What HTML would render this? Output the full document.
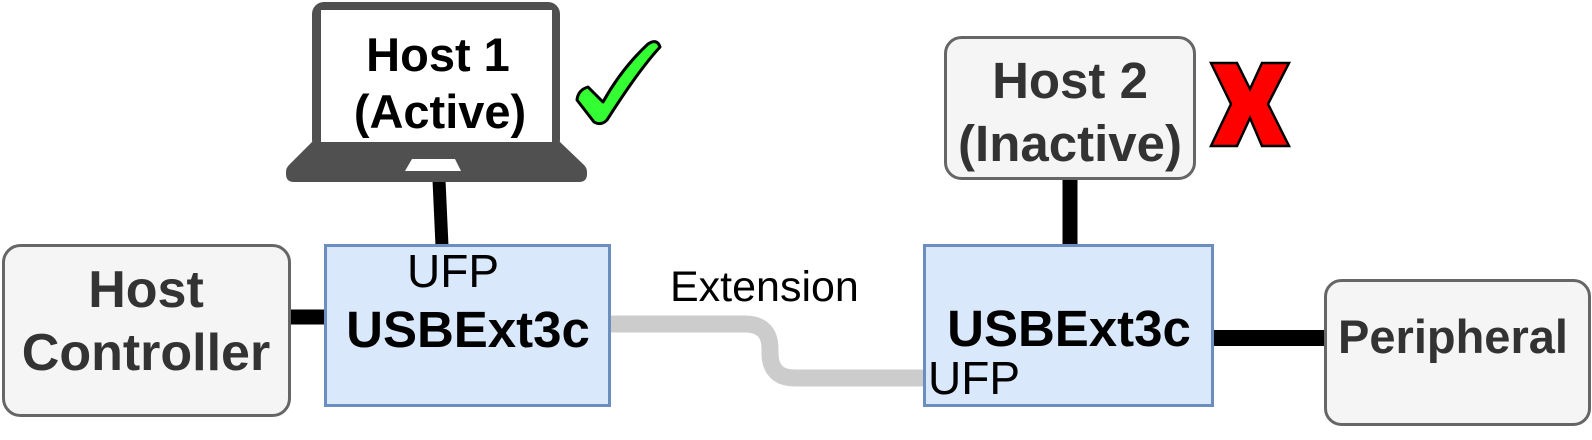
<!DOCTYPE html>
<html>
<head>
<meta charset="utf-8">
<style>
  html, body { margin: 0; padding: 0; background: #ffffff; }
  svg { display: block; }
  text { font-family: "Liberation Sans", Arial, sans-serif; }
</style>
</head>
<body>
<svg width="1592" height="440" viewBox="0 0 1592 440" xmlns="http://www.w3.org/2000/svg">
  <rect x="0" y="0" width="1592" height="440" fill="#ffffff"/>

  <!-- Connectors -->
  <line x1="439" y1="180" x2="442" y2="246" stroke="#000" stroke-width="13"/>
  <line x1="288" y1="317" x2="326" y2="317" stroke="#000" stroke-width="15"/>
  <line x1="1212" y1="338" x2="1326" y2="338" stroke="#000" stroke-width="16"/>
  <line x1="1070" y1="176" x2="1070" y2="246" stroke="#000" stroke-width="15"/>

  <!-- Extension cable -->
  <path d="M 608 324 L 745 324 Q 770 324 770 349 L 770 353 Q 770 378 795 378 L 926 378" fill="none" stroke="#cccccc" stroke-width="17"/>

  <!-- Laptop (Host 1) -->
  <rect x="312" y="2" width="248" height="150" rx="12" ry="12" fill="#505050"/>
  <rect x="321" y="10" width="231" height="132" fill="#ffffff"/>
  <path d="M 312 142 L 560 142 L 584 165 Q 587 168 587 172 L 587 174 Q 587 182 579 182 L 294 182 Q 286 182 286 174 L 286 172 Q 286 168 289 165 Z" fill="#505050"/>
  <polygon points="412,159 455,159 461,171 405,171" fill="#ffffff"/>
  <text x="438" y="71" font-size="47" font-weight="bold" fill="#000" text-anchor="middle">Host 1</text>
  <text x="440" y="128" font-size="47" font-weight="bold" fill="#000" text-anchor="middle">(Active)</text>

  <!-- Green check -->
  <path d="M 577 100 Q 578 90 588 87 L 603 102 Q 622 68 648 44 Q 657 38 660 47 Q 638 71 607 120 Q 601 126 594 122 Z" fill="#33ff33" stroke="#000" stroke-width="3" stroke-linejoin="round"/>

  <!-- Host Controller -->
  <rect x="3.5" y="245.5" width="286" height="170" rx="17" ry="17" fill="#f5f5f5" stroke="#666666" stroke-width="3"/>
  <text x="146" y="307" font-size="52" font-weight="bold" fill="#333333" text-anchor="middle">Host</text>
  <text x="146" y="370" font-size="52" font-weight="bold" fill="#333333" text-anchor="middle">Controller</text>

  <!-- USBExt3c left -->
  <rect x="325.5" y="245.5" width="284" height="160" fill="#dae8fc" stroke="#6c8ebf" stroke-width="3"/>
  <text x="453" y="287" font-size="46" fill="#000" text-anchor="middle">UFP</text>
  <text x="468" y="347" font-size="51" font-weight="bold" fill="#000" text-anchor="middle">USBExt3c</text>

  <!-- Extension label -->
  <text x="670" y="301" font-size="43" fill="#000">Extension</text>

  <!-- USBExt3c right -->
  <rect x="924.5" y="245.5" width="288" height="160" fill="#dae8fc" stroke="#6c8ebf" stroke-width="3"/>
  <text x="1069" y="346" font-size="51" font-weight="bold" fill="#000" text-anchor="middle">USBExt3c</text>
  <text x="928" y="394" font-size="46" fill="#000">UFP</text>

  <!-- Host 2 -->
  <rect x="945.5" y="37.5" width="249" height="141" rx="16" ry="16" fill="#f5f5f5" stroke="#666666" stroke-width="3"/>
  <text x="1070" y="98" font-size="51" font-weight="bold" fill="#333333" text-anchor="middle">Host 2</text>
  <text x="1070" y="161" font-size="51" font-weight="bold" fill="#333333" text-anchor="middle">(Inactive)</text>

  <!-- Red X -->
  <polygon points="1211,63 1237,63 1250,89 1262,63 1289,63 1268,104 1289,146 1262,146 1250,118 1237,146 1211,146 1231,104" fill="#ff0000" stroke="#000" stroke-width="2.5" stroke-linejoin="miter"/>

  <!-- Peripheral -->
  <rect x="1325.5" y="280.5" width="264" height="144" rx="16" ry="16" fill="#f5f5f5" stroke="#666666" stroke-width="3"/>
  <text x="1453" y="353" font-size="47" font-weight="bold" fill="#333333" text-anchor="middle">Peripheral</text>
</svg>
</body>
</html>
